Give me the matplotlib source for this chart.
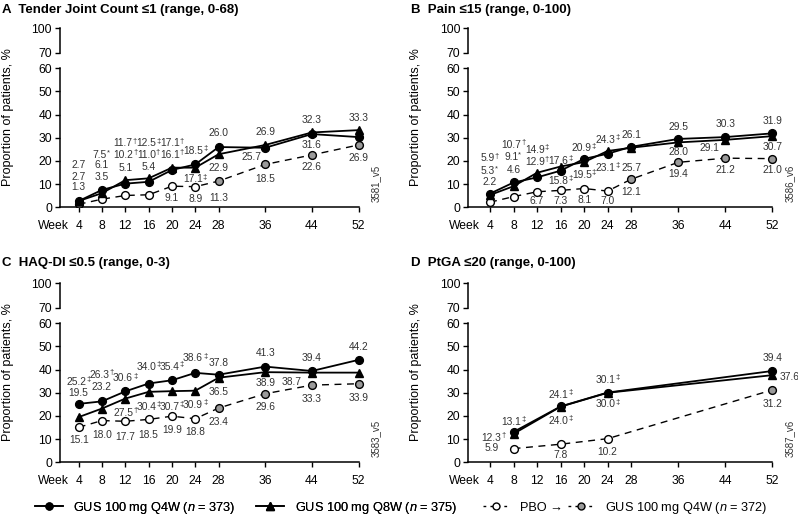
import matplotlib.pyplot as plt
from matplotlib.lines import Line2D

plt.rcParams['font.family'] = ['Liberation Sans', 'DejaVu Sans']
plt.rcParams['mathtext.fontset'] = 'custom'
plt.rcParams['mathtext.it'] = 'Liberation Sans:italic'
plt.rcParams['mathtext.rm'] = 'Liberation Sans'

# ---- data ----
weeks = [4, 8, 12, 16, 20, 24, 28, 36, 44, 52]
pbo_weeks = [4, 8, 12, 16, 20, 24]
gus_weeks = [28, 36, 44, 52]

# A: Tender joint count <=1
tjc_q4w = [2.7, 7.5, 10.2, 11.0, 16.1, 18.5, 26.0, 25.7, 31.6, 30.3]
tjc_q8w = [2.7, 6.1, 11.7, 12.5, 17.1, 17.1, 22.9, 26.9, 32.3, 33.3]
tjc_pbo = [1.3, 3.5, 5.1, 5.4, 9.1, 8.9]
tjc_gus = [11.3, 18.5, 22.6, 26.9]
tjc_q4w_sig = ['', '*', '†', '†', '†', '‡', '', '', '', '']
tjc_q8w_sig = ['', '', '†', '‡', '†', '‡', '', '', '', '']

# B: Pain <=15
pain_q4w = [5.9, 10.7, 12.9, 15.8, 20.9, 23.1, 26.1, 29.5, 30.3, 31.9]
pain_q8w = [5.3, 9.1, 14.9, 17.6, 19.5, 24.3, 25.7, 28.0, 29.1, 30.7]
pain_pbo = [2.2, 4.6, 6.7, 7.3, 8.1, 7.0]
pain_gus = [12.1, 19.4, 21.2, 21.0]
pain_q4w_sig = ['†', '†', '†', '‡', '‡', '‡', '', '', '', '']
pain_q8w_sig = ['*', '*', '‡', '‡', '‡', '‡', '', '', '', '']

# C: HAQ-DI <=0.5
haq_q4w = [25.2, 26.3, 30.6, 34.0, 35.4, 38.6, 37.8, 41.3, 39.4, 44.2]
haq_q8w = [19.5, 23.2, 27.5, 30.4, 30.7, 30.9, 36.5, 38.9, 38.7, 38.7]
haq_pbo = [15.1, 18.0, 17.7, 18.5, 19.9, 18.8]
haq_gus = [23.4, 29.6, 33.3, 33.9]
haq_q4w_sig = ['‡', '†', '‡', '‡', '‡', '‡', '', '', '', '']
haq_q8w_sig = ['', '', '†', '‡', '‡', '‡', '', '', '', '']

# D: PtGA <=20
ptga_weeks = [8, 16, 24, 52]
ptga_pbo_weeks = [8, 16, 24]
ptga_gus_weeks = [52]
ptga_q4w = [13.1, 24.1, 30.1, 39.4]
ptga_q8w = [12.3, 24.0, 30.0, 37.6]
ptga_pbo = [5.9, 7.8, 10.2]
ptga_gus = [31.2]
ptga_q4w_sig = ['‡', '‡', '‡', '']
ptga_q8w_sig = ['†', '‡', '‡', '']

# ---- label placement (x, y) ----
tjc_pos = {
    'q4w': [(4, 18.3), (8, 22.6), (12, 22.6), (16, 22.6), (20, 22.6), (24, 24.5), (28, 31.9), (33.7, 21.5), (44, 26.9), (55.3, 29.8)],
    'q8w': [(4, 13.2), (8, 18.3), (12, 27.6), (16, 27.6), (20, 27.6), (24, 12.1), (28, 16.8), (36, 32.6), (44, 37.7), (52, 38.7)],
    'pbo': [(4, 8.6), (8, 13.2), (12, 16.8), (16, 17.4), (20, 3.9), (24, 3.6)],
    'gus': [(28, 4.2), (36, 12.1), (44, 17.2), (52, 21.3)],
}
pain_pos = {
    'q4w': [(4, 21.1), (8, 26.9), (12, 19.7), (16, 11.3), (20, 25.5), (24, 17.0), (28, 31.2), (36, 34.6), (44, 35.9), (52, 37.4)],
    'q8w': [(4, 15.6), (8, 21.6), (12, 24.9), (16, 19.9), (20, 14.0), (24, 29.0), (28, 17.0), (36, 23.8), (41.4, 25.5), (52, 26.2)],
    'pbo': [(4, 10.9), (8, 16.1), (12, 2.7), (16, 2.7), (20, 3.2), (24, 2.7)],
    'gus': [(28, 6.8), (36, 14.3), (44, 16.0), (52, 16.0)],
}
haq_pos = {
    'q4w': [(4, 34.8), (8, 37.7), (12, 36.2), (16, 41.3), (20, 41.3), (24, 44.9), (28, 43.0), (36, 47.0), (44, 44.9), (52, 49.6)],
    'q8w': [(4, 30.0), (8, 32.6), (12, 21.4), (16, 24.0), (20, 24.0), (24, 24.7), (28, 30.5), (36, 34.1), (40.6, 34.8), (55.2, 38.7)],
    'pbo': [(4, 9.6), (8, 11.8), (12, 11.1), (16, 11.8), (20, 13.9), (24, 13.2)],
    'gus': [(28, 17.5), (36, 24.0), (44, 27.2), (52, 27.9)],
}
ptga_pos = {
    'q4w': [(8, 17.6), (16, 29.1), (24, 35.5), (52, 44.9)],
    'q8w': [(4.6, 10.4), (16, 18.0), (24, 25.0), (54.9, 36.8)],
    'pbo': [(4.3, 6.0), (16, 3.2), (24, 4.6)],
    'gus': [(52, 25.0)],
}

BRK = {70: 66.7, 100: 77.3}   # compressed positions for the top part of the axis
TXT = '#333333'


def put_label(ax, xy, value, sig=''):
    shift = -1.6 if sig else 0
    t = ax.annotate(f'{value:.1f}', xy=xy, xytext=(shift, 0), textcoords='offset points',
                    ha='center', va='center', fontsize=7.4, color=TXT)
    if sig:
        ax.annotate(sig, xy=(1.0, 0.72), xycoords=t, ha='left', va='center',
                    fontsize=5.5, color=TXT)


def draw_panel(ax, xmin, wk, q4w, q8w, pwk, pbo, gwk, gus, s4, s8, pos, tag):
    ax.plot(pwk + gwk, pbo + gus, color='k', lw=1.0, ls=(0, (5, 4)), zorder=1)
    ax.plot(pwk, pbo, ls='none', marker='o', ms=5.6, mfc='white', mec='k', mew=1.0, zorder=2)
    ax.plot(gwk, gus, ls='none', marker='o', ms=5.6, mfc='#9a9a9a', mec='k', mew=1.0, zorder=2)
    ax.plot(wk, q8w, color='k', lw=1.3, marker='^', ms=6.0, zorder=3)
    ax.plot(wk, q4w, color='k', lw=1.3, marker='o', ms=5.6, zorder=4)

    for p, v, s in zip(pos['q4w'], q4w, s4):
        put_label(ax, p, v, s)
    for p, v, s in zip(pos['q8w'], q8w, s8):
        put_label(ax, p, v, s)
    for p, v in zip(pos['pbo'], pbo):
        put_label(ax, p, v)
    for p, v in zip(pos['gus'], gus):
        put_label(ax, p, v)

    ax.set_xlim(xmin, 55)
    ax.set_ylim(0, 78)
    ax.set_xticks(weeks)
    ax.set_xticklabels([str(w) for w in weeks])
    yt = [0, 10, 20, 30, 40, 50, 60, BRK[70], BRK[100]]
    ax.set_yticks(yt)
    ax.set_yticklabels(['0', '10', '20', '30', '40', '50', '60', '70', '100'])
    ax.tick_params(direction='out', length=3.8, width=1.0, labelsize=8.7, colors='k')
    ax.tick_params(axis='x', pad=5.0)
    ax.tick_params(axis='y', pad=2)
    for sp in ['top', 'right']:
        ax.spines[sp].set_visible(False)
    ax.spines['left'].set_bounds(0, 60)
    ax.spines['bottom'].set_bounds(xmin, 52)
    ax.spines['left'].set_linewidth(1.1)
    ax.spines['bottom'].set_linewidth(1.1)
    ax.plot([0, 0], [BRK[70], BRK[100]], color='k', lw=1.1,
            transform=ax.get_yaxis_transform(), clip_on=False)
    ax.set_ylabel('Proportion of patients, %', fontsize=9)
    ax.yaxis.set_label_coords(-0.145, 0.5)
    ax.annotate('Week', xy=(2.3, 0), xycoords=('data', 'axes fraction'),
                xytext=(0, -8.8), textcoords='offset points', ha='right', va='top', fontsize=8.7)
    ax.annotate(tag, xy=(1.0, 0.0), xycoords='axes fraction', xytext=(0, 4),
                textcoords='offset points', rotation=90, ha='center', va='bottom',
                fontsize=7, color=TXT)
    return ax


fig = plt.figure(figsize=(7.98, 5.22), dpi=100)

ax_a = fig.add_axes([0.0752, 0.6029, 0.396, 0.3462])
ax_b = fig.add_axes([0.5868, 0.6029, 0.403, 0.3462])
ax_c = fig.add_axes([0.0752, 0.1144, 0.396, 0.3462])
ax_d = fig.add_axes([0.5868, 0.1144, 0.403, 0.3462])

draw_panel(ax_a, 0.8, weeks, tjc_q4w, tjc_q8w, pbo_weeks, tjc_pbo, gus_weeks, tjc_gus,
           tjc_q4w_sig, tjc_q8w_sig, tjc_pos, '3581_v5')
draw_panel(ax_b, 0.3, weeks, pain_q4w, pain_q8w, pbo_weeks, pain_pbo, gus_weeks, pain_gus,
           pain_q4w_sig, pain_q8w_sig, pain_pos, '3586_v6')
draw_panel(ax_c, 0.8, weeks, haq_q4w, haq_q8w, pbo_weeks, haq_pbo, gus_weeks, haq_gus,
           haq_q4w_sig, haq_q8w_sig, haq_pos, '3583_v5')
draw_panel(ax_d, 0.3, ptga_weeks, ptga_q4w, ptga_q8w, ptga_pbo_weeks, ptga_pbo,
           ptga_gus_weeks, ptga_gus, ptga_q4w_sig, ptga_q8w_sig, ptga_pos, '3587_v6')

fig.text(0.003, 0.981, 'A  Tender Joint Count ≤1 (range, 0-68)', fontsize=9.5, fontweight='bold', va='center')
fig.text(0.515, 0.981, 'B  Pain ≤15 (range, 0-100)', fontsize=9.5, fontweight='bold', va='center')
fig.text(0.003, 0.497, 'C  HAQ-DI ≤0.5 (range, 0-3)', fontsize=9.5, fontweight='bold', va='center')
fig.text(0.515, 0.497, 'D  PtGA ≤20 (range, 0-100)', fontsize=9.5, fontweight='bold', va='center')

# legend
h_q4w = Line2D([], [], color='k', lw=1.2, marker='o', ms=5)
h_q8w = Line2D([], [], color='k', lw=1.2, marker='^', ms=5.5)
h_pbo = Line2D([], [], color='k', lw=1.0, ls=(0, (2, 3)), marker='o', ms=5, mfc='white')
h_gus = Line2D([], [], color='k', lw=1.0, ls=(0, (2, 3)), marker='o', ms=5, mfc='#9a9a9a')

leg1 = fig.legend([h_q4w, h_q8w],
                  ['GUS 100 mg Q4W ($\\it{n}$ = 373)', 'GUS 100 mg Q8W ($\\it{n}$ = 375)'],
                  loc='center left', bbox_to_anchor=(35 / 798, 0.027), ncol=2, frameon=False,
                  fontsize=9.2, handlelength=2.2, handletextpad=0.8, columnspacing=1.6,
                  borderpad=0, borderaxespad=0)
fig.add_artist(leg1)
fig.legend([h_pbo, h_gus], ['PBO →', 'GUS 100 mg Q4W ($\\it{n}$ = 372)'],
           loc='center left', bbox_to_anchor=(483 / 798, 0.027), ncol=2, frameon=False,
           fontsize=9.2, handlelength=2.0, handletextpad=0.9, columnspacing=0.4,
           borderpad=0, borderaxespad=0)

fig.savefig('out.png', dpi=100)
